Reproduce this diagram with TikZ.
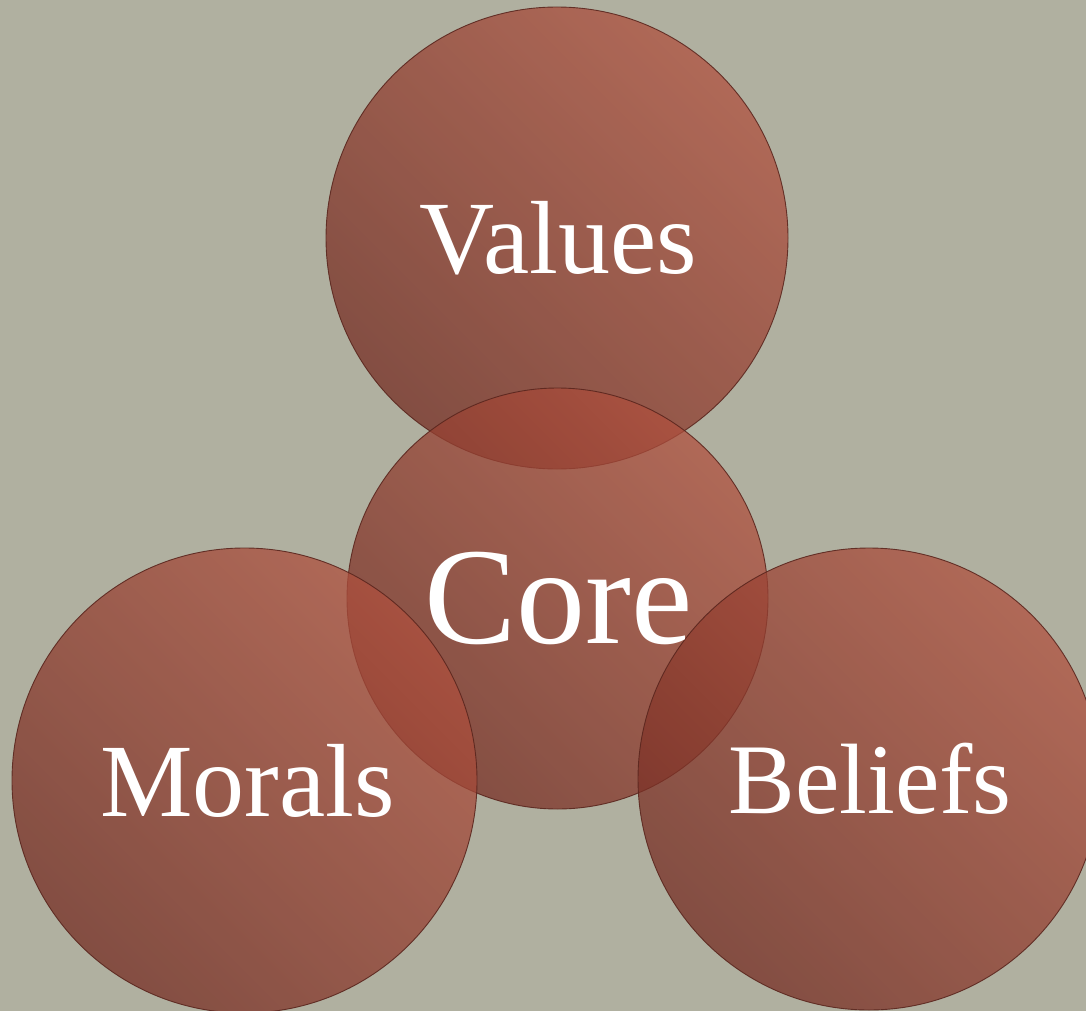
\documentclass[tikz,border=0pt]{standalone}
\usepackage{fontspec}
\setmainfont{Liberation Serif}
\definecolor{bg}{RGB}{176,176,160}
\definecolor{clight}{RGB}{176,80,62}
\definecolor{cdark}{RGB}{116,44,34}
\definecolor{edge}{RGB}{90,38,30}
\tikzset{
  disc/.style={circle, draw=edge, line width=0.9pt, inner sep=0pt,
    left color=cdark, right color=clight, shading angle=135, fill opacity=0.74, draw opacity=0.9},
  word/.style={text=white, font=\fontsize{104}{104}\selectfont, inner sep=0pt}
}
\begin{document}
\begin{tikzpicture}[x=1pt,y=-1pt]
\useasboundingbox (0,0) rectangle (1086,1011);
\clip (0,0) rectangle (1086,1011);
\fill[bg] (0,0) rectangle (1086,1011);
\node[disc, minimum size=462pt] (values) at (557,238) {};
\node[disc, minimum size=421pt] (core) at (557.5,598.5) {};
\node[disc, minimum size=465pt] (morals) at (244.5,780.5) {};
\node[disc, minimum size=462pt] (beliefs) at (869,779) {};
\node[word] (tv) at ([xshift=1pt]values.center) {Values};
\node[word, font=\fontsize{138}{138}\selectfont] (tc) at ([xshift=1pt]core.center) {Core};
\node[word] (tm) at ([xshift=3pt]morals.center) {Morals};
\node[word, font=\fontsize{100}{100}\selectfont] (tb) at ([xshift=1pt]beliefs.center) {Beliefs};
\end{tikzpicture}
\end{document}
